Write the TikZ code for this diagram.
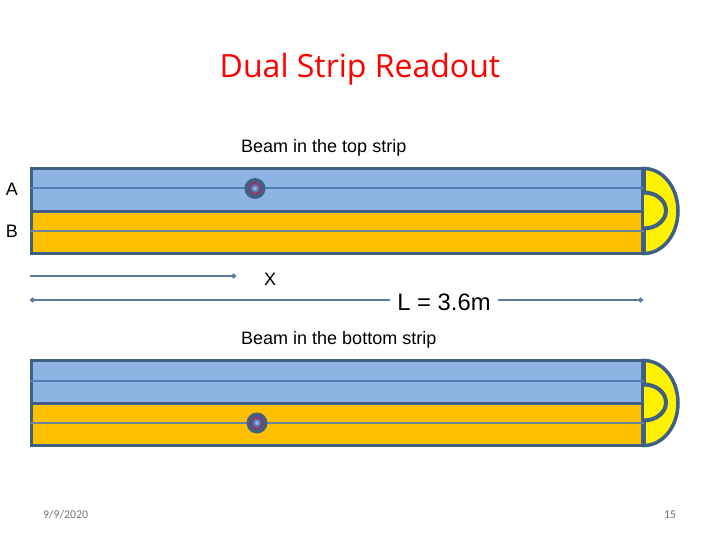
\documentclass[tikz,border=0pt]{standalone}
\usepackage{fontspec}
\setmainfont{Liberation Sans}
\newfontfamily\titlefont{Open Sans}
\newfontfamily\footfont{Carlito}
\usetikzlibrary{arrows.meta}
\definecolor{stripblue}{HTML}{8EB4E3}
\definecolor{stripgold}{HTML}{FFC000}
\definecolor{stripedge}{HTML}{3F5F85}
\definecolor{midline}{HTML}{4F7FB5}
\definecolor{midgrey}{HTML}{6F8398}
\definecolor{rulecol}{HTML}{5B7C9E}
\definecolor{ringcol}{HTML}{8A3A6E}
\tikzset{
	strip/.style = {draw=stripedge, line width=3pt, minimum width=611pt, minimum height=42.5pt, inner sep=0pt},
	lbl/.style = {inner sep=0pt, font=\fontsize{18}{20}\selectfont},
	foot/.style = {inner sep=0pt, text=black!55, font=\footfont\fontsize{11.8}{14}\selectfont},
	rulel/.style = {draw=rulecol, line width=2pt, -{Circle[length=5pt,width=4.5pt]}},
	capd/.style = {draw=stripedge, line width=3.5pt, fill=yellow}
}
\begin{document}
\begin{tikzpicture}[x=1pt,y=-1pt]
\useasboundingbox (0,0) rectangle (720,540);
\node[inner sep=0pt, text=red, font=\titlefont\fontsize{32}{36}\selectfont] (title) at (360,69) {Dual Strip Readout};
\node[lbl, anchor=west] (toptext) at (241,148) {Beam in the top strip};
\node[lbl, anchor=west] (bottext) at (241,340) {Beam in the bottom strip};
\node[lbl] (labA) at (12,189) {A};
\node[lbl] (labB) at (12,231) {B};
\node[lbl] (labX) at (270,279) {X};
% top pair
\draw[capd] (644,168.5) arc[start angle=-90,end angle=90,x radius=34,y radius=42.5] -- cycle;
\draw[capd, line width=4pt] (644,192.5) arc[start angle=-90,end angle=90,x radius=22,y radius=18];
\node[strip, fill=stripblue] (topA) at (336.5,190) {};
\node[strip, fill=stripgold] (topB) at (336.5,232.5) {};
\draw[midline, line width=2pt] ([yshift=1.5pt]topA.west) -- ([yshift=1.5pt]topA.east);
\draw[midgrey, line width=2pt] ([yshift=1.5pt]topB.west) -- ([yshift=1.5pt]topB.east);
% bottom pair
\draw[capd] (644,360.5) arc[start angle=-90,end angle=90,x radius=34,y radius=42.5] -- cycle;
\draw[capd, line width=4pt] (644,384.5) arc[start angle=-90,end angle=90,x radius=22,y radius=18];
\node[strip, fill=stripblue] (botA) at (336.5,382) {};
\node[strip, fill=stripgold] (botB) at (336.5,424.5) {};
\draw[midline, line width=2pt] ([yshift=1.5pt]botA.west) -- ([yshift=1.5pt]botA.east);
\draw[midgrey, line width=2pt] ([yshift=1.5pt]botB.west) -- ([yshift=1.5pt]botB.east);
% beam spots
\foreach \nm/\px/\py in {spotA/255/188.5, spotB/257/423} {
	\node[circle, fill=stripedge, minimum size=21pt, inner sep=0pt] (\nm) at (\px,\py) {};
	\node[circle, draw=ringcol, line width=2pt, fill=midline, minimum size=11pt, inner sep=0pt] at (\nm) {};
	\node[circle, fill=stripblue, minimum size=4pt, inner sep=0pt] at (\nm) {};
}
% distances
\coordinate (xleft) at (30,276);
\coordinate (xright) at (236,276);
\coordinate (lenleft) at (30,300);
\coordinate (lenright) at (643,300);
\node[inner sep=7pt, font=\fontsize{23.8}{26}\selectfont] (lenlab) at (444,302) {L = 3.6m};
\draw[rulel] (xleft) -- (xright);
\draw[rulel] (lenlab.west |- lenleft) -- (lenleft);
\draw[rulel] (lenlab.east |- lenright) -- (lenright);
\node[foot] (datelab) at (65.5,515) {9/9/2020};
\node[foot] (pagelab) at (670,515) {15};
\end{tikzpicture}
\end{document}
